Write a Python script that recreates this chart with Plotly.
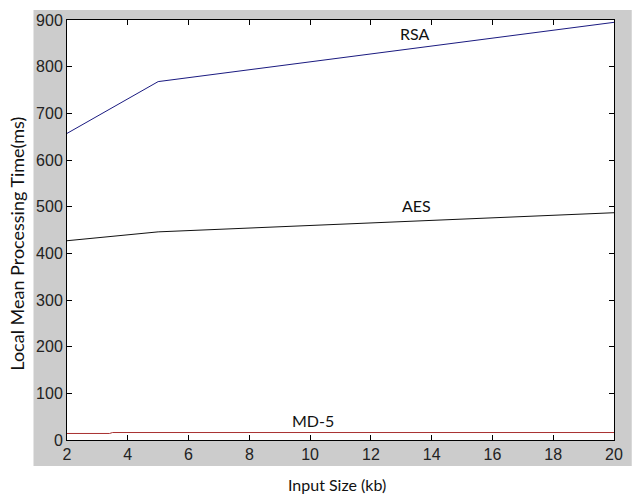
import plotly.graph_objects as go

# Data
rsa_x = [2, 5, 20]
rsa_y = [657, 768, 895]
aes_x = [2, 5, 20]
aes_y = [427, 446, 487]
md5_x = [2, 3.4, 3.5, 20]
md5_y = [14, 14, 16, 16]

x_ticks = [2, 4, 6, 8, 10, 12, 14, 16, 18, 20]
y_ticks = [0, 100, 200, 300, 400, 500, 600, 700, 800, 900]

labels = ["RSA", "AES", "MD-5"]
label_x = [13.45, 13.5, 10.1]
label_y = [872, 503, 42]

W, H = 635, 498
L, R, T, B = 67, 13, 18, 58
pw, ph = W - L - R, H - T - B

fig = go.Figure()
fig.add_trace(go.Scatter(x=rsa_x, y=rsa_y, mode="lines", line=dict(color="#1a1a80", width=1), name="RSA"))
fig.add_trace(go.Scatter(x=aes_x, y=aes_y, mode="lines", line=dict(color="#111111", width=1), name="AES"))
fig.add_trace(go.Scatter(x=md5_x, y=md5_y, mode="lines", line=dict(color="#a83030", width=1), name="MD-5"))

for t, lx, ly in zip(labels, label_x, label_y):
    fig.add_annotation(x=lx, y=ly, text=t, showarrow=False,
                       font=dict(family="Lato, Open Sans, sans-serif", size=16, color="#111"))

def px_to_paper_x(px):
    return (px - L) / pw

def py_to_paper_y(py):
    return (H - B - py) / ph

# gray figure area
fig.add_shape(type="rect", xref="paper", yref="paper",
              x0=px_to_paper_x(33), x1=px_to_paper_x(640),
              y0=py_to_paper_y(466), y1=py_to_paper_y(8),
              fillcolor="#cccccc", line=dict(width=0), layer="below")
fig.add_shape(type="rect", xref="x", yref="y", x0=2, x1=20, y0=0, y1=900,
              fillcolor="white", line=dict(width=0), layer="below")

axis_common = dict(showline=True, linecolor="black", linewidth=1, mirror="ticks",
                   ticks="inside", ticklen=5, tickcolor="black", showgrid=False,
                   zeroline=False,
                   tickfont=dict(family="Liberation Sans, Arial, sans-serif", size=16, color="#222"))

fig.update_xaxes(range=[2, 20], tickvals=x_ticks, **axis_common)
fig.update_yaxes(range=[0, 900], tickvals=y_ticks, **axis_common)

fig.add_annotation(xref="paper", yref="paper", x=px_to_paper_x(341), y=py_to_paper_y(485),
                   xanchor="center", yanchor="middle",
                   text="Input Size (kb)", showarrow=False,
                   font=dict(family="Lato, Open Sans, sans-serif", size=16, color="#111"))
fig.add_annotation(xref="paper", yref="paper", x=px_to_paper_x(16), y=py_to_paper_y(243),
                   xanchor="center", yanchor="middle",
                   text="Local Mean Processing Time(ms)", showarrow=False, textangle=-90,
                   font=dict(family="Lato, Open Sans, sans-serif", size=18, color="#111"))

fig.update_layout(width=W, height=H, margin=dict(l=L, r=R, t=T, b=B),
                  paper_bgcolor="white", plot_bgcolor="white", showlegend=False)

fig.write_html("out.html", config={"displayModeBar": False},
               post_script="document.body.style.margin='0';document.body.style.padding='0';")
